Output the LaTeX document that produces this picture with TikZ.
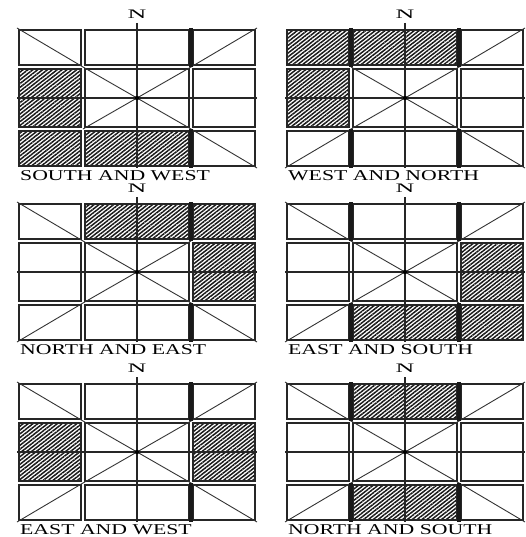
\documentclass[tikz,border=0pt]{standalone}
\usepackage{fontspec}
\setmainfont{Liberation Serif}
\usetikzlibrary{patterns.meta}

\def\XA{66}\def\XB{120}\def\XC{174}\def\XD{240}
\def\YA{39}\def\YB{70}\def\YC{101}\def\YD{140}

\tikzset{
  gridline/.style={line width=1.5pt, draw=black!85},
  thickseg/.style={line width=3.6pt, draw=black!90},
  diagline/.style={line width=0.9pt, draw=black!80},
  hatchfill/.style={pattern={Lines[angle=38,distance=3pt,line width=1.5pt]}, pattern color=black!90},
  northlbl/.style={font=\fontsize{13}{13}\selectfont, inner sep=0pt, text height=8.6pt, text depth=0pt},
  namelbl/.style={font=\fontsize{15}{15}\selectfont, inner sep=0pt, anchor=west, text height=9.9pt, text depth=0pt},
}

% region box, inset by 2
\newcommand{\regbox}[4]{\draw[gridline] (#1+2,#2+2) rectangle (#3-2,#4-2);}
\newcommand{\hatchreg}[4]{\path[hatchfill] (#1+2,#2+2) rectangle (#3-2,#4-2);}

% common grid of one panel
\newcommand{\gridpanel}{%
  \regbox{0}{0}{\XA}{\YA}\regbox{\XA}{0}{\XC}{\YA}\regbox{\XC}{0}{\XD}{\YA}
  \regbox{0}{\YA}{\XA}{\YC}\regbox{\XA}{\YA}{\XC}{\YC}\regbox{\XC}{\YA}{\XD}{\YC}
  \regbox{0}{\YC}{\XA}{\YD}\regbox{\XA}{\YC}{\XC}{\YD}\regbox{\XC}{\YC}{\XD}{\YD}
  \draw[gridline] (\XB,-5) -- (\XB,\YD);
  \draw[gridline] (0,\YB) -- (\XD,\YB);
  \draw[diagline] (\XA,\YA) -- (\XC,\YC);
  \draw[diagline] (\XC,\YA) -- (\XA,\YC);
  \fill[black] (\XB,\YB) circle (2.2);
}
\newcommand{\dNW}{\draw[diagline] (0,0) -- (\XA,\YA);}
\newcommand{\dNE}{\draw[diagline] (\XD,0) -- (\XC,\YA);}
\newcommand{\dSW}{\draw[diagline] (0,\YD) -- (\XA,\YC);}
\newcommand{\dSE}{\draw[diagline] (\XD,\YD) -- (\XC,\YC);}
\newcommand{\thickC}{\draw[thickseg] (\XC,0) -- (\XC,\YA); \draw[thickseg] (\XC,\YC) -- (\XC,\YD);}
\newcommand{\thickA}{\draw[thickseg] (\XA,0) -- (\XA,\YA); \draw[thickseg] (\XA,\YC) -- (\XA,\YD);}
\newcommand{\lbl}[3]{\node[namelbl] (#1) at (3,\YD+#2) {\scalebox{1.45}[1]{#3}};}
\newcommand{\nlbl}[1]{\node[northlbl] (#1) at (\XB,-13.5) {\scalebox{2}[1]{N}};}

\begin{document}
\begin{tikzpicture}[x=1pt,y=-1pt]
\useasboundingbox (0,0) rectangle (526,537);

% Panel 1: SOUTH AND WEST
\begin{scope}[shift={(17,28)}]
  \hatchreg{0}{\YA}{\XA}{\YC}\hatchreg{0}{\YC}{\XA}{\YD}\hatchreg{\XA}{\YC}{\XC}{\YD}
  \gridpanel \dNW \dNE \dSE \thickC
  \nlbl{n1} \lbl{l1}{7.5}{SOUTH AND WEST}
\end{scope}

% Panel 2: WEST AND NORTH
\begin{scope}[shift={(285,28)}]
  \hatchreg{0}{0}{\XA}{\YA}\hatchreg{\XA}{0}{\XC}{\YA}\hatchreg{0}{\YA}{\XA}{\YC}
  \gridpanel \dNE \dSW \dSE \thickA \thickC
  \nlbl{n2} \lbl{l2}{7.5}{WEST AND NORTH}
\end{scope}

% Panel 3: NORTH AND EAST
\begin{scope}[shift={(17,202)}]
  \hatchreg{\XA}{0}{\XC}{\YA}\hatchreg{\XC}{0}{\XD}{\YA}\hatchreg{\XC}{\YA}{\XD}{\YC}
  \gridpanel \dNW \dSW \dSE \thickC
  \nlbl{n3} \lbl{l3}{8}{NORTH AND EAST}
\end{scope}

% Panel 4: EAST AND SOUTH
\begin{scope}[shift={(285,202)}]
  \hatchreg{\XC}{\YA}{\XD}{\YC}\hatchreg{\XA}{\YC}{\XC}{\YD}\hatchreg{\XC}{\YC}{\XD}{\YD}
  \gridpanel \dNW \dNE \dSW \thickA \thickC
  \nlbl{n4} \lbl{l4}{8}{EAST AND SOUTH}
\end{scope}

% Panel 5: EAST AND WEST
\begin{scope}[shift={(17,382)}]
  \hatchreg{0}{\YA}{\XA}{\YC}\hatchreg{\XC}{\YA}{\XD}{\YC}
  \gridpanel \dNW \dNE \dSW \dSE \thickC
  \nlbl{n5} \lbl{l5}{7.5}{EAST AND WEST}
\end{scope}

% Panel 6: NORTH AND SOUTH
\begin{scope}[shift={(285,382)}]
  \hatchreg{\XA}{0}{\XC}{\YA}\hatchreg{\XA}{\YC}{\XC}{\YD}
  \gridpanel \dNW \dNE \dSW \dSE \thickA \thickC
  \nlbl{n6} \lbl{l6}{7.5}{NORTH AND SOUTH}
\end{scope}
\end{tikzpicture}
\end{document}
